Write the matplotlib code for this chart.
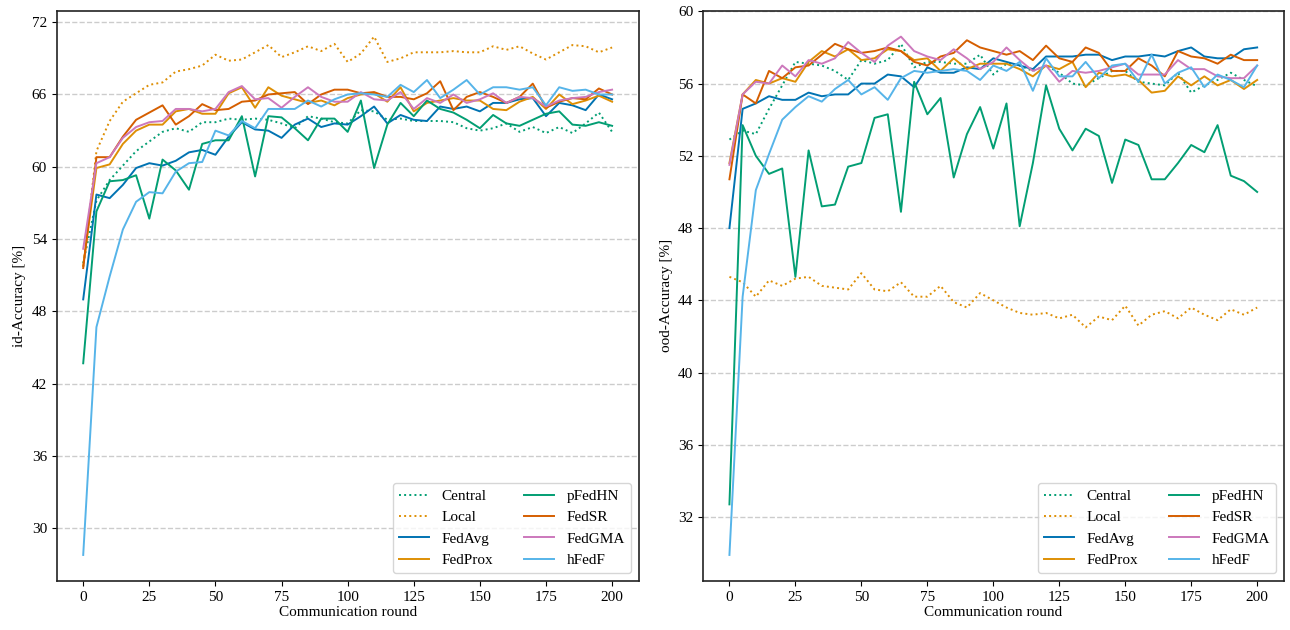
import numpy as np
import matplotlib
matplotlib.use("Agg")
import matplotlib.pyplot as plt

plt.rcParams["font.family"] = ["Liberation Serif", "DejaVu Serif"]
plt.rcParams["font.size"] = 11

# ---------------------------------------------------------------------------
# Data (one point every 5 rounds)
# ---------------------------------------------------------------------------
rounds = np.arange(0, 201, 5)

labels = ["Central", "Local", "FedAvg", "FedProx", "pFedHN", "FedSR", "FedGMA", "hFedF"]
colors = ["#029e73", "#de8f05", "#0173b2", "#de8f05", "#029e73", "#d55e00", "#cc78bc", "#56b4e9"]
styles = [":", ":", "-", "-", "-", "-", "-", "-"]

# id-accuracy
id_central = [52.0, 57.2, 58.9, 60.1, 61.3, 62.1, 62.9, 63.2, 62.9, 63.7, 63.7, 64.0, 63.9, 64.0,
              63.9, 63.6, 63.2, 64.2, 64.0, 63.7, 63.6, 64.7, 64.6, 63.9, 64.0, 63.8, 63.8, 63.8,
              63.7, 63.2, 63.0, 63.2, 63.6, 62.9, 63.3, 62.8, 63.3, 62.8, 63.6, 64.5, 62.9]
id_local = [51.7, 61.3, 63.8, 65.4, 66.1, 66.8, 67.0, 67.9, 68.1, 68.4, 69.3, 68.8, 68.9, 69.5,
            70.1, 69.1, 69.5, 70.0, 69.6, 70.2, 68.7, 69.4, 70.8, 68.7, 69.0, 69.5, 69.5, 69.5,
            69.6, 69.5, 69.5, 70.0, 69.7, 70.0, 69.4, 68.9, 69.5, 70.1, 70.0, 69.5, 69.9]
id_fedavg = [49.0, 57.7, 57.4, 58.5, 59.9, 60.3, 60.1, 60.5, 61.2, 61.4, 61.0, 62.5, 63.7, 63.1,
             63.0, 62.4, 63.5, 64.0, 63.3, 63.6, 63.5, 64.2, 65.0, 63.6, 64.3, 63.9, 63.8, 65.0,
             64.8, 65.0, 64.6, 65.3, 65.3, 65.6, 65.7, 64.2, 65.3, 65.1, 64.7, 66.0, 65.6]
id_fedprox = [51.8, 59.9, 60.2, 61.9, 63.0, 63.5, 63.5, 64.6, 64.8, 64.4, 64.4, 66.1, 66.6, 64.9,
              66.6, 65.9, 65.6, 65.3, 65.5, 65.1, 65.7, 66.0, 66.1, 65.4, 66.6, 64.6, 65.3, 65.5,
              65.7, 65.5, 65.5, 64.8, 64.7, 65.4, 65.8, 64.8, 66.0, 65.2, 65.5, 65.9, 65.4]
id_pfedhn = [43.7, 56.3, 58.8, 58.9, 59.3, 55.7, 60.6, 59.7, 58.1, 61.9, 62.2, 62.2, 64.2, 59.2,
             64.2, 64.1, 63.2, 62.2, 64.0, 64.0, 62.9, 65.5, 59.9, 63.5, 65.3, 64.2, 65.5, 64.8,
             64.5, 63.9, 63.2, 64.3, 63.6, 63.4, 63.9, 64.4, 64.6, 63.5, 63.4, 63.7, 63.4]
id_fedsr = [51.6, 60.8, 60.8, 62.5, 63.9, 64.5, 65.1, 63.5, 64.2, 65.2, 64.7, 64.8, 65.4, 65.5,
            66.0, 66.1, 66.2, 65.2, 66.0, 66.4, 66.4, 66.1, 66.2, 65.8, 65.8, 65.6, 66.1, 67.1,
            64.7, 65.8, 66.2, 65.8, 65.3, 65.8, 66.9, 64.9, 65.4, 65.7, 65.6, 66.5, 66.0]
id_fedgma = [53.2, 60.3, 60.8, 62.4, 63.3, 63.7, 63.8, 64.8, 64.8, 64.6, 64.8, 66.2, 66.7, 65.6,
             65.7, 64.9, 65.8, 66.6, 65.8, 65.4, 65.4, 66.2, 65.6, 65.5, 66.2, 64.8, 65.7, 65.3,
             66.0, 65.3, 65.6, 66.1, 65.3, 65.8, 65.7, 65.0, 65.5, 65.7, 65.8, 66.2, 66.4]
id_hfedf = [27.8, 46.7, 50.9, 54.8, 57.1, 57.9, 57.8, 59.6, 60.3, 60.4, 63.0, 62.6, 63.8, 63.2,
            64.8, 64.8, 64.8, 65.5, 65.0, 65.6, 66.0, 66.1, 66.0, 65.8, 66.8, 66.2, 67.2, 65.7,
            66.4, 67.2, 66.0, 66.6, 66.6, 66.4, 66.6, 65.1, 66.6, 66.3, 66.4, 66.0, 66.0]

# ood-accuracy
ood_central = [52.9, 53.4, 53.2, 54.6, 55.9, 57.2, 57.1, 57.0, 56.7, 56.2, 57.3, 57.1, 57.3, 58.2,
               56.9, 57.2, 57.2, 57.1, 57.1, 57.6, 56.5, 57.1, 57.0, 56.7, 57.0, 56.6, 56.0, 55.9,
               56.3, 56.7, 56.7, 56.1, 56.0, 55.9, 56.6, 55.5, 55.9, 56.2, 56.6, 56.2, 55.85]
ood_local = [45.3, 45.0, 44.2, 45.1, 44.8, 45.2, 45.3, 44.8, 44.7, 44.6, 45.5, 44.6, 44.5, 45.0,
             44.2, 44.2, 44.8, 43.9, 43.6, 44.4, 44.0, 43.6, 43.3, 43.2, 43.3, 43.0, 43.2, 42.5,
             43.1, 42.9, 43.7, 42.6, 43.2, 43.4, 43.0, 43.6, 43.2, 42.9, 43.5, 43.2, 43.6]
ood_fedavg = [48.0, 54.6, 54.9, 55.3, 55.1, 55.1, 55.5, 55.3, 55.4, 55.4, 56.0, 56.0, 56.5, 56.4,
              55.8, 56.9, 56.6, 56.6, 56.9, 56.8, 57.4, 57.2, 57.0, 56.8, 57.5, 57.5, 57.5, 57.6,
              57.6, 57.3, 57.5, 57.5, 57.6, 57.5, 57.8, 58.0, 57.5, 57.4, 57.4, 57.9, 58.0]
ood_fedprox = [51.6, 55.4, 56.2, 56.0, 56.3, 56.1, 57.2, 57.8, 57.5, 57.9, 57.3, 57.4, 57.9, 57.8,
               57.3, 57.4, 56.7, 57.4, 56.8, 57.1, 57.1, 57.1, 56.8, 56.4, 57.0, 56.8, 57.2, 55.8,
               56.6, 56.4, 56.5, 56.2, 55.5, 55.6, 56.4, 55.9, 56.4, 55.9, 56.2, 55.7, 56.2]
ood_pfedhn = [32.7, 53.7, 52.0, 51.0, 51.3, 45.3, 52.3, 49.2, 49.3, 51.4, 51.6, 54.1, 54.3, 48.9,
              56.1, 54.3, 55.2, 50.8, 53.2, 54.7, 52.4, 54.9, 48.1, 51.6, 55.9, 53.5, 52.3, 53.5,
              53.1, 50.5, 52.9, 52.6, 50.7, 50.7, 51.6, 52.6, 52.2, 53.7, 50.9, 50.6, 50.0]
ood_fedsr = [50.7, 55.4, 54.9, 56.7, 56.3, 56.9, 57.0, 57.6, 58.2, 57.9, 57.7, 57.8, 58.0, 57.8,
             57.2, 57.0, 57.5, 57.7, 58.4, 58.0, 57.8, 57.6, 57.8, 57.3, 58.1, 57.4, 57.2, 58.0,
             57.7, 56.7, 56.7, 57.4, 57.0, 56.4, 57.8, 57.5, 57.4, 57.1, 57.6, 57.3, 57.3]
ood_fedgma = [51.5, 55.4, 56.1, 56.0, 57.0, 56.4, 57.3, 57.1, 57.4, 58.3, 57.7, 57.2, 58.1, 58.6,
              57.8, 57.5, 57.3, 57.9, 57.4, 56.8, 57.2, 58.0, 57.3, 56.7, 57.0, 56.1, 56.7, 56.6,
              56.7, 56.9, 57.1, 56.5, 56.5, 56.5, 57.3, 56.8, 56.8, 56.4, 56.3, 56.3, 57.0]
ood_hfedf = [29.9, 44.2, 50.1, 52.1, 54.0, 54.7, 55.3, 55.0, 55.7, 56.2, 55.4, 55.8, 55.1, 56.3,
             56.7, 56.6, 56.7, 56.8, 56.7, 56.2, 57.0, 56.7, 57.2, 55.6, 57.4, 56.4, 56.4, 57.2,
             56.3, 57.0, 57.1, 56.1, 57.6, 56.0, 56.6, 56.9, 55.8, 56.5, 56.2, 55.8, 57.0]

id_series = [id_central, id_local, id_fedavg, id_fedprox, id_pfedhn, id_fedsr, id_fedgma, id_hfedf]
ood_series = [ood_central, ood_local, ood_fedavg, ood_fedprox, ood_pfedhn, ood_fedsr, ood_fedgma, ood_hfedf]

# ---------------------------------------------------------------------------
# Plot
# ---------------------------------------------------------------------------
fig = plt.figure(figsize=(12.9, 6.3), dpi=100)
ax1 = fig.add_axes([0.044, 0.078, 0.451, 0.905])
ax2 = fig.add_axes([0.545, 0.078, 0.450, 0.905])

for ax, series, ylabel, yticks in [
    (ax1, id_series, "id-Accuracy [%]", np.arange(30, 73, 6)),
    (ax2, ood_series, "ood-Accuracy [%]", np.arange(32, 61, 4)),
]:
    for vals, lbl, col, ls in zip(series, labels, colors, styles):
        ax.plot(rounds, vals, ls=ls, color=col, lw=1.4, label=lbl)
    ax.set_yticks(yticks)
    ax.set_xticks([0, 25, 50, 75, 100, 125, 150, 175, 200])
    ax.grid(True, axis="y", ls="--", color="#cccccc", lw=1)
    ax.set_axisbelow(True)
    ax.set_xlabel("Communication round", labelpad=2)
    ax.set_ylabel(ylabel, labelpad=4)
    for sp in ax.spines.values():
        sp.set_color("#222222")
        sp.set_linewidth(1.2)
    ax.legend(loc="lower right", ncol=2, fontsize=11, handlelength=2.0,
              columnspacing=2.0, fancybox=True, framealpha=0.8)

fig.savefig("out.png", dpi=100)
